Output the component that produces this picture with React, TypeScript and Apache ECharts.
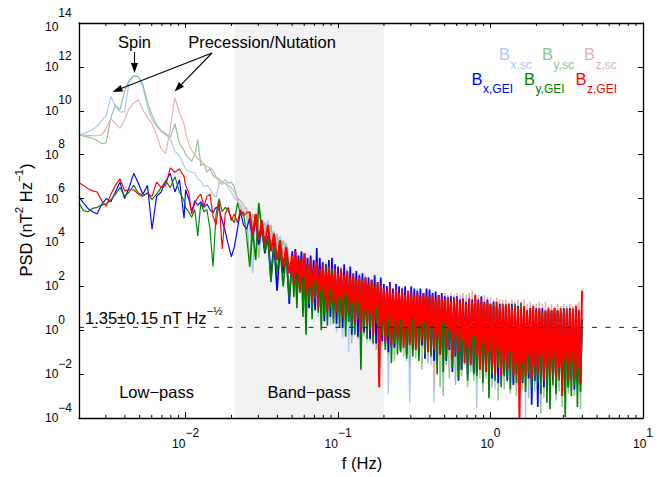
import React, { useEffect, useRef } from "react";
import * as echarts from "echarts";

const FONT = "'Liberation Sans', Arial, Helvetica, sans-serif";

// log10 of frequency (Hz) for every sample of the spectra
const LOG_F = [
  -2.70, -2.67, -2.64, -2.61, -2.58, -2.55, -2.52, -2.49, -2.46, -2.43, -2.40, -2.37,
  -2.34, -2.31, -2.28, -2.25, -2.22, -2.19, -2.16, -2.13, -2.10, -2.07, -2.04, -2.01,
  -2.00, -1.98, -1.96, -1.94, -1.92, -1.90, -1.88, -1.86, -1.84, -1.82, -1.80, -1.78,
  -1.76, -1.74, -1.72, -1.70, -1.68, -1.66, -1.64, -1.62, -1.60, -1.58, -1.56, -1.54,
  -1.52, -1.50, -1.48, -1.46, -1.44, -1.42, -1.40, -1.38, -1.36, -1.34, -1.32,
  -1.30, -1.29, -1.28, -1.27, -1.26, -1.25, -1.24, -1.23, -1.22, -1.21,
  -1.20, -1.19, -1.18, -1.17, -1.16, -1.15, -1.14, -1.13, -1.12, -1.11,
  -1.10, -1.09, -1.08, -1.07, -1.06, -1.05, -1.04, -1.03, -1.02, -1.01,
  -1.00, -0.99, -0.98, -0.97, -0.96, -0.95, -0.94, -0.93, -0.92, -0.91,
  -0.90, -0.89, -0.88, -0.87, -0.86, -0.85, -0.84, -0.83, -0.82, -0.81,
  -0.80, -0.79, -0.78, -0.77, -0.76, -0.75, -0.74, -0.73, -0.72, -0.71,
  -0.70, -0.69, -0.68, -0.67, -0.66, -0.65, -0.64, -0.63, -0.62, -0.61,
  -0.60, -0.59, -0.58, -0.57, -0.56, -0.55, -0.54, -0.53, -0.52, -0.51,
  -0.50, -0.49, -0.48, -0.47, -0.46, -0.45, -0.44, -0.43, -0.42, -0.41,
  -0.40, -0.39, -0.38, -0.37, -0.36, -0.35, -0.34, -0.33, -0.32, -0.31,
  -0.30, -0.29, -0.28, -0.27, -0.26, -0.25, -0.24, -0.23, -0.22, -0.21,
  -0.20, -0.19, -0.18, -0.17, -0.16, -0.15, -0.14, -0.13, -0.12, -0.11,
  -0.10, -0.09, -0.08, -0.07, -0.06, -0.05, -0.04, -0.03, -0.02, -0.01,
  0.00, 0.01, 0.02, 0.03, 0.04, 0.05, 0.06, 0.07, 0.08, 0.09,
  0.10, 0.11, 0.12, 0.13, 0.14, 0.15, 0.16, 0.17, 0.18, 0.19,
  0.20, 0.21, 0.22, 0.23, 0.24, 0.25, 0.26, 0.27, 0.28, 0.29,
  0.30, 0.31, 0.32, 0.33, 0.34, 0.35, 0.36, 0.37, 0.38, 0.39,
  0.40, 0.41, 0.42, 0.43, 0.44, 0.45, 0.46, 0.47, 0.48, 0.49,
  0.50, 0.51, 0.52, 0.53, 0.54, 0.55, 0.56, 0.57, 0.58, 0.59,
  0.60,
];
// index in LOG_F where the noisy, densely drawn part of the spectra begins (f = 10^-1.58 Hz)
const DENSE_START = 45;

// log10 of PSD (nT^2 Hz^-1), spacecraft frame
const LOG_PSD_BX_SC = [
  8.9, 8.95, 9.05, 9.15, 9.3, 9.55, 9.8, 10.65, 10.2, 9.95, 9.95, 11.3, 11.6, 11.55, 11.05, 10.2, 9.6, 9.3, 9.05, 8.9, 8.7, 8.15, 7.95, 7.5,
  7.35, 7.25, 7.2, 7.15, 6.9, 6.8, 6.55, 6.6, 6.45, 6.2, 6.05, 6.7, 6.65, 6.7, 6.5, 6.3, 6.0, 5.9, 5.7, 5.5, 5.6, 4.8, 2.6, 5.1, 5.4, 4.9, 4.6, 5.0, 4.3, 4.5, 3.9, 4.3, 3.6, 4.0, 3.3,
  3.3, 1.8, 3.2, 1.2, 3.4, 2.0, 3.1, 1.5, 3.3, 0.9,
  3.0, 1.4, 3.1, 0.8, 2.9, 1.6, 3.0, 0.6, 2.8, 1.1,
  2.8, 0.5, 2.7, 1.2, 2.8, 0.2, 2.6, 0.9, 2.7, -0.1,
  2.5, 0.6, 2.6, -0.4, 2.5, 0.3, 2.4, -1.0, 2.5, 0.4,
  2.3, -0.2, 2.4, 0.5, 2.2, -0.5, 2.3, 0.2, 2.1, -0.6,
  2.1, 0.1, 2.0, -0.7, 2.2, -0.1, 2.0, -0.9, 2.1, 0.0,
  1.8, -0.8, 1.9, -2.9, 1.7, -0.4, 1.8, -1.2, 1.7, -0.6,
  1.7, -1.0, 1.6, -0.5, 1.8, -1.4, 1.6, -3.3, 1.7, -1.1,
  1.6, -1.0, 1.5, -0.9, 1.6, -1.5, 1.4, -0.7, 1.5, -1.3,
  1.5, -1.6, 1.4, -3.3, 1.5, -1.0, 1.3, -2.6, 1.4, -1.4,
  1.3, -1.2, 1.4, -1.9, 1.2, -1.4, 1.3, -2.2, 1.2, -1.6,
  1.2, -2.0, 1.3, -1.5, 1.1, -2.3, 1.2, -1.7, 1.1, -2.1,
  1.2, -3.55, 1.1, -1.8, 1.2, -2.4, 1.0, -2.0, 1.1, -2.6,
  1.0, -2.2, 1.1, -2.7, 0.9, -1.9, 1.0, -2.5, 0.9, -2.3,
  1.0, -2.4, 0.9, -2.8, 1.0, -2.1, 0.9, -2.6, 1.0, -2.3,
  0.9, -2.5, 1.0, -3.96, 0.9, -2.2, 0.8, -2.7, 0.9, -2.4,
  0.8, -2.6, 0.9, -2.3, 0.8, -3.0, 0.9, -2.5, 0.8, -2.8,
  0.9, -2.4, 0.8, -2.9, 0.9, -2.6, 0.8, -3.1, 0.9, -2.5,
  0.8, -2.7, 0.9, -2.4, 0.8, -3.0, 0.9, -2.6, 0.8, -2.9,
  0.3,
];

const LOG_PSD_BY_SC = [
  8.9, 8.85, 8.8, 8.75, 8.65, 8.5, 8.55, 9.7, 10.25, 10.05, 10.9, 11.4, 11.6, 11.55, 11.2, 10.4, 9.8, 9.35, 9.1, 8.95, 8.8, 9.4, 8.5, 8.2,
  8.0, 7.85, 7.7, 8.0, 8.7, 7.5, 7.6, 7.2, 7.35, 7.05, 6.95, 6.9, 6.75, 6.85, 6.7, 6.75, 6.5, 6.0, 5.9, 5.7, 5.5, 3.0, 5.3, 5.0, 3.3, 4.7, 4.9, 3.9, 4.8, 3.7, 4.4, 3.2, 4.1, 3.5, 3.0,
  3.2, 1.9, 3.3, 1.4, 3.1, 2.1, 3.2, 1.1, 3.0, 0.0,
  3.0, 1.5, 2.9, 0.9, 3.1, 1.7, 2.9, 1.0, 3.0, 1.4,
  2.7, 0.8, 2.8, 0.4, 2.6, 1.2, 2.7, 0.5, 2.8, 0.9,
  2.5, 0.3, 2.6, 0.9, 2.4, 0.0, 2.5, 0.6, 2.4, -0.6,
  2.3, 0.2, 2.2, -0.4, 2.3, 0.4, 2.1, -0.2, 2.2, 0.1,
  2.0, -0.5, 2.1, 0.2, 1.9, -0.9, 2.0, -0.1, 1.9, -0.7,
  1.8, -0.3, 1.7, -1.1, 1.8, -0.5, 1.7, -1.4, 1.8, -0.6,
  1.6, -0.8, 1.7, -1.2, 1.6, -0.4, 1.5, -1.6, 1.6, -0.9,
  1.5, -1.3, 1.6, -0.7, 1.4, -1.8, 1.5, -1.0, 1.4, -1.5,
  1.4, -1.1, 1.5, -1.7, 1.3, -1.2, 1.4, -2.6, 1.3, -3.0,
  1.3, -1.6, 1.2, -2.2, 1.3, -1.4, 1.2, -2.5, 1.3, -1.8,
  1.2, -2.1, 1.1, -1.6, 1.2, -2.6, 1.1, -1.9, 1.2, -2.3,
  1.1, -2.4, 1.2, -1.8, 1.0, -2.8, 1.1, -2.2, 1.0, -2.5,
  1.0, -2.6, 1.1, -2.1, 0.9, -3.2, 1.0, -2.3, 0.9, -2.7,
  1.0, -2.3, 0.9, -2.9, 1.0, -2.5, 0.9, -3.0, 1.0, -2.4,
  0.9, -2.7, 0.8, -2.4, 0.9, -3.1, 0.8, -2.6, 0.9, -2.8,
  0.8, -2.5, 0.9, -3.8, 0.8, -2.7, 0.9, -2.4, 0.8, -3.0,
  0.9, -2.6, 0.8, -3.2, 0.9, -2.8, 0.8, -3.5, 0.9, -2.7,
  0.8, -2.9, 0.9, -2.6, 0.8, -3.0, 0.9, -2.7, 0.8, -3.6,
  0.2,
];

const LOG_PSD_BZ_SC = [
  8.9, 8.88, 8.88, 8.87, 8.86, 8.9, 9.2, 9.65, 9.4, 9.2, 9.6, 10.1, 10.35, 10.5, 10.05, 9.7, 9.4, 8.9, 8.25, 8.05, 9.2, 10.6, 9.9, 9.4,
  9.0, 8.5, 8.2, 8.0, 7.8, 7.75, 7.55, 7.45, 7.4, 7.3, 7.0, 6.75, 6.7, 6.7, 6.6, 6.5, 6.3, 5.95, 5.6, 5.3, 5.5, 5.0, 4.8, 5.2, 4.7, 4.9, 4.4, 4.6, 4.0, 4.3, 3.8, 4.0, 3.5, 3.8, 3.2,
  3.5, 2.2, 3.6, 1.8, 3.4, 2.5, 3.5, 1.5, 3.3, 2.0,
  3.3, 1.6, 3.4, 2.1, 3.2, 1.3, 3.3, 1.9, 3.1, 1.0,
  3.0, 1.5, 3.1, 0.8, 2.9, 1.4, 3.0, 0.5, 2.9, 1.2,
  2.8, 0.7, 2.9, 1.3, 2.7, 0.2, 2.8, 0.9, 2.7, 0.4,
  2.6, 0.9, 2.5, 0.1, 2.6, 0.7, 2.4, -0.3, 2.5, 0.5,
  2.4, 0.0, 2.3, 0.6, 2.4, -0.5, 2.2, 0.3, 2.3, -0.2,
  2.1, 0.2, 2.0, -0.6, 2.1, 0.0, 1.9, -0.9, 2.0, -0.3,
  1.9, -0.5, 2.0, -1.1, 1.9, -0.2, 1.8, -0.8, 1.9, -1.2,
  1.8, -0.7, 1.9, -0.3, 1.8, -1.2, 1.7, -0.6, 1.8, -1.0,
  1.8, -1.3, 1.7, -2.6, 1.8, -0.9, 1.6, -1.4, 1.7, -1.0,
  1.7, -1.2, 1.6, -1.7, 1.7, -0.9, 1.6, -1.5, 1.7, -1.1,
  1.6, -1.9, 1.7, -1.3, 1.6, -2.0, 1.7, -1.4, 1.8, -1.6,
  1.7, -1.8, 1.6, -2.2, 1.5, -1.5, 1.6, -2.0, 1.5, -1.7,
  1.5, -2.1, 1.4, -1.6, 1.5, -2.4, 1.4, -1.9, 1.4, -2.2,
  1.4, -1.8, 1.3, -2.3, 1.4, -2.0, 1.3, -2.6, 1.4, -1.9,
  1.3, -2.2, 1.4, -2.5, 1.2, -2.0, 1.3, -2.7, 1.2, -2.1,
  1.2, -2.4, 1.3, -2.0, 1.2, -3.1, 1.3, -2.3, 1.1, -2.6,
  1.2, -2.2, 1.1, -2.7, 1.2, -2.4, 1.1, -2.9, 1.2, -2.3,
  1.1, -2.5, 1.2, -2.8, 1.1, -2.3, 1.2, -2.6, 1.3, -2.4,
  1.0,
];

// log10 of PSD (nT^2 Hz^-1), GEI frame
const LOG_PSD_BX_GEI = [
  6.1, 5.8, 5.55, 5.4, 5.3, 5.75, 6.0, 5.85, 6.3, 6.75, 6.0, 6.5, 7.15, 6.7, 6.2, 6.6, 4.6, 6.1, 6.3, 6.8, 7.15, 6.3, 6.85, 5.1,
  6.4, 6.0, 5.4, 5.9, 5.7, 5.85, 5.6, 5.75, 5.5, 5.35, 5.6, 5.5, 5.0, 4.5, 3.9, 3.35, 3.8, 4.6, 5.4, 4.8, 4.6, 5.1, 4.2, 5.15, 3.9, 4.7, 3.5, 4.3, 2.4, 4.0, 1.8, 3.8, 2.6, 3.6, 1.2,
  3.6, 2.0, 3.7, 1.5, 3.4, 2.4, 3.6, 1.2, 3.5, 2.2,
  3.3, 1.0, 3.4, 1.8, 3.2, 0.9, 3.75, 1.5, 3.3, 1.1,
  3.1, 0.4, 3.0, 1.3, 3.2, 0.6, 3.3, 0.9, 3.0, 0.3,
  2.9, 0.8, 2.8, 0.1, 3.0, 1.0, 2.7, 0.4, 2.9, -0.2,
  2.6, 0.5, 2.7, -0.3, 2.5, 0.2, 2.6, -0.1, 2.4, 0.6,
  2.4, -0.4, 2.3, 0.3, 2.5, -0.6, 2.2, 0.0, 2.4, -0.5,
  2.1, -0.6, 2.0, -1.0, 2.2, 0.1, 1.9, -0.8, 2.1, -0.3,
  2.0, -0.9, 1.9, -0.2, 2.0, -1.1, 1.8, -0.5, 2.0, -0.9,
  1.9, -0.4, 1.8, -1.2, 1.9, -0.7, 1.7, -1.3, 1.9, -0.2,
  1.85, -1.0, 1.7, -1.4, 1.75, -0.6, 1.6, -1.1, 1.7, -0.8,
  1.55, -1.4, 1.5, -0.9, 1.55, -1.9, 1.5, -1.2, 1.55, -2.3,
  1.4, -1.8, 1.45, -1.0, 1.3, -2.0, 1.45, -1.3, 1.4, -1.9,
  1.45, -2.0, 1.4, -1.4, 1.55, -2.2, 1.3, -1.6, 1.4, -2.1,
  1.2, -2.2, 1.3, -1.5, 1.1, -2.4, 1.2, -1.8, 1.0, -2.0,
  1.1, -2.3, 1.0, -1.7, 1.2, -2.5, 1.0, -2.0, 1.1, -2.2,
  1.0, -2.4, 1.1, -1.9, 0.9, -2.2, 1.0, -3.4, 0.9, -2.3,
  1.0, -3.5, 0.9, -2.1, 1.0, -2.6, 0.8, -2.2, 0.9, -2.5,
  0.9, -2.3, 1.0, -2.7, 0.9, -2.0, 0.8, -2.5, 1.0, -2.3,
  0.9, -2.6, 1.0, -2.2, 0.9, -2.7, 1.0, -2.4, 0.9, -2.5,
  0.5,
];

const LOG_PSD_BY_GEI = [
  5.8, 5.45, 5.4, 5.55, 5.6, 5.7, 5.75, 5.95, 6.2, 6.5, 6.1, 6.3, 6.6, 6.25, 6.15, 6.25, 5.95, 6.2, 6.5, 6.8, 6.5, 7.0, 6.3, 5.9,
  5.6, 5.4, 5.15, 5.5, 4.3, 5.8, 5.4, 5.5, 4.6, 2.9, 5.3, 6.0, 5.4, 5.6, 5.45, 5.1, 4.9, 5.8, 5.3, 5.4, 4.3, 2.9, 4.5, 3.2, 5.8, 4.6, 3.6, 4.2, 2.2, 3.9, 2.6, 3.7, 2.0, 3.5, 1.4,
  3.3, 1.5, 3.4, 1.0, 3.2, 1.7, 3.3, 0.6, 3.1, -0.2,
  3.0, 1.2, 3.1, 0.5, 2.9, 1.4, 3.0, 0.8, 2.8, 0.0,
  2.8, 0.7, 2.9, 0.2, 2.7, 1.0, 2.8, 0.3, 2.6, 0.8,
  2.6, 0.1, 2.7, 0.6, 2.5, -0.3, 2.6, 0.4, 2.4, 0.0,
  2.4, -0.2, 2.3, 0.5, 2.2, -1.8, 2.3, 0.1, 2.2, -0.4,
  2.1, 0.0, 2.2, -0.6, 2.0, 0.3, 2.1, -0.8, 2.0, -0.2,
  1.9, -0.9, 1.8, -0.3, 1.9, -1.5, 1.7, -0.6, 1.8, -1.1,
  1.7, -1.0, 1.8, -0.4, 1.6, -1.3, 1.7, -0.7, 1.6, -1.2,
  1.6, -0.8, 1.7, -1.4, 1.5, -0.5, 1.6, -1.1, 1.5, -0.9,
  1.5, -1.2, 1.6, -0.7, 1.4, -2.0, 1.5, -1.0, 1.4, -1.9,
  1.4, -1.3, 1.5, -0.8, 1.3, -1.7, 1.4, -1.1, 1.3, -2.2,
  1.3, -1.8, 1.4, -1.2, 1.2, -2.3, 1.3, -1.5, 1.2, -2.0,
  1.3, -2.1, 1.2, -1.6, 1.3, -2.4, 1.1, -1.9, 1.2, -3.1,
  1.1, -2.0, 1.2, -2.3, 1.0, -1.7, 1.1, -2.6, 1.0, -2.1,
  1.2, -2.2, 1.0, -2.7, 1.1, -1.9, 1.2, -2.4, 1.0, -2.5,
  1.25, -2.3, 1.0, -2.8, 0.9, -2.0, 1.0, -2.6, 0.9, -2.3,
  0.9, -2.4, 1.0, -2.9, 0.8, -2.2, 0.9, -3.3, 0.8, -3.6,
  0.9, -2.5, 0.8, -2.9, 0.9, -2.3, 0.8, -2.7, 0.9, -3.95,
  0.8, -2.6, 0.9, -3.0, 0.8, -2.5, 0.9, -3.5, 0.8, -2.8,
  0.4,
];

const LOG_PSD_BZ_GEI = [
  6.73, 6.6, 6.45, 6.35, 6.3, 5.9, 5.65, 6.2, 6.6, 6.9, 6.35, 6.4, 6.4, 6.2, 6.1, 6.25, 6.1, 6.75, 6.5, 6.6, 7.4, 7.2, 7.35, 7.0,
  6.6, 6.3, 5.3, 5.8, 6.05, 6.2, 5.65, 6.1, 6.2, 5.2, 4.8, 5.9, 3.7, 5.3, 5.6, 5.0, 5.3, 4.9, 5.5, 5.2, 5.35, 5.4, 4.3, 5.3, 4.1, 5.0, 3.9, 4.8, 3.6, 4.4, 3.2, 4.1, 2.9, 3.8, 2.6,
  3.4, 2.1, 3.6, 2.6, 3.2, 1.8, 3.3, 2.4, 3.5, 1.6,
  3.0, 1.9, 3.2, 1.3, 2.9, 2.2, 3.1, 1.0, 2.8, 1.8,
  3.0, 1.5, 2.7, 0.9, 2.9, 1.9, 2.6, 1.2, 2.8, 0.8,
  2.6, 1.4, 2.8, 0.6, 2.5, 1.6, 2.7, 0.8, 2.4, 1.2,
  2.5, 0.3, 2.3, 1.3, 2.4, -0.1, 2.2, 0.9, 2.4, 0.2,
  2.1, 0.8, 2.3, -0.2, 2.0, 1.1, 2.2, -2.6, 2.0, 0.4,
  1.9, -0.5, 1.8, 0.6, 2.0, -0.7, 1.7, 0.3, 1.9, -0.4,
  1.7, 0.5, 1.8, -0.8, 1.6, 0.1, 1.8, -0.6, 1.7, 0.6,
  1.6, -0.9, 1.7, 0.2, 1.5, -0.5, 1.7, 0.4, 1.6, -1.0,
  1.5, 0.1, 1.6, -0.9, 1.4, -0.3, 1.6, -1.1, 1.5, 0.3,
  1.4, -0.8, 1.5, 0.0, 1.3, -1.2, 1.4, -0.4, 1.5, -1.0,
  1.3, -0.5, 1.4, -1.5, 1.2, -0.9, 1.4, -1.6, 1.3, -0.3,
  1.6, -1.2, 1.3, -1.8, 1.4, -0.6, 1.2, -1.9, 1.3, -1.0,
  1.2, -1.6, 1.1, -2.0, 1.3, -0.9, 1.0, -2.1, 1.2, -1.3,
  1.1, -1.8, 1.2, -1.0, 1.0, -2.1, 1.1, -1.5, 1.0, -4.0,
  1.0, -1.4, 1.1, -2.1, 0.9, -1.1, 1.0, -2.2, 1.1, -1.6,
  0.9, -2.0, 1.0, -1.2, 0.8, -2.3, 0.9, -1.6, 1.0, -2.1,
  0.9, -1.3, 1.0, -2.2, 0.9, -1.7, 1.0, -3.0, 0.8, -1.4,
  1.0, -2.3, 0.9, -1.5, 1.0, -2.2, 1.1, -1.8, 0.9, -2.4,
  1.8,
];

const SERIES_NAMES = ["Bx,sc", "By,sc", "Bz,sc", "Bx,GEI", "By,GEI", "Bz,GEI"];
const SERIES_LOG_PSD = [LOG_PSD_BX_SC, LOG_PSD_BY_SC, LOG_PSD_BZ_SC, LOG_PSD_BX_GEI, LOG_PSD_BY_GEI, LOG_PSD_BZ_GEI];
const SERIES_COLORS = ["#aec7fb", "#92c192", "#e0b1b1", "#0000ff", "#008000", "#ff0000"];
const DENSE_WIDTHS = [1.4, 1.4, 1.5, 1.7, 1.6, 2.0];

const X_RANGE = [0.002, 10];
const Y_RANGE = [1e-4, 1e14];
const Y_TICK_STEP_DECADES = 2;
const BAND_PASS = [0.021, 0.2];
const NOISE_FLOOR = 1.35;
const MINOR_X_TICKS = [
  0.003, 0.004, 0.005, 0.006, 0.007, 0.008, 0.009,
  0.02, 0.03, 0.04, 0.05, 0.06, 0.07, 0.08, 0.09,
  0.2, 0.3, 0.4, 0.5, 0.6, 0.7, 0.8, 0.9,
  2, 3, 4, 5, 6, 7, 8, 9,
];

const LEGEND_ROWS = [
  [
    { sub: "x,sc", color: "#aec7fb", x: 499 },
    { sub: "y,sc", color: "#92c192", x: 542 },
    { sub: "z,sc", color: "#e0b1b1", x: 584 },
  ],
  [
    { sub: "x,GEI", color: "#0000ff", x: 471.5 },
    { sub: "y,GEI", color: "#008000", x: 524 },
    { sub: "z,GEI", color: "#ff0000", x: 575.5 },
  ],
];

const MINUS = "\u2212";
const expText = (e: number) => (e < 0 ? MINUS + Math.abs(e) : String(e));
const decadeOf = (v: number) => {
  const e = Math.log10(v);
  const r = Math.round(e);
  return Math.abs(e - r) > 1e-6 ? null : r;
};
const xLabel = (v: number) => {
  const r = decadeOf(v);
  return r === null ? "" : `{b|10}{e|${expText(r)}}`;
};
const yLabel = (v: number) => {
  const r = decadeOf(v);
  if (r === null) return "";
  return v >= Y_RANGE[1] * 0.999 ? `{bt|10}{et|${expText(r)}}` : `{b|10}{e|${expText(r)}}`;
};

const tokenBase = { fontSize: 12, fontFamily: FONT, color: "#000", lineHeight: 14 };
const labelRich = {
  b: { ...tokenBase },
  e: { ...tokenBase, padding: [0, 0, 21, 0] },
  bt: { ...tokenBase, padding: [7, 0, 0, 0] },
  et: { ...tokenBase, padding: [0, 0, 20, 0] },
};

function arrow(x1: number, y1: number, x2: number, y2: number) {
  const dx = x2 - x1;
  const dy = y2 - y1;
  const len = Math.sqrt(dx * dx + dy * dy);
  const ux = dx / len;
  const uy = dy / len;
  const L = 10;
  const W = 3.5;
  const bx = x2 - ux * L;
  const by = y2 - uy * L;
  return [
    { type: "line", z: 20, shape: { x1, y1, x2: bx, y2: by }, style: { stroke: "#000", lineWidth: 1.1 } },
    {
      type: "polygon",
      z: 20,
      shape: { points: [[x2, y2], [bx - uy * W, by + ux * W], [bx + uy * W, by - ux * W]] },
      style: { fill: "#000" },
    },
  ];
}

function text(x: number, y: number, str: string, opts: any = {}) {
  return {
    type: "text",
    z: 20,
    x,
    y,
    rotation: opts.rotation || 0,
    style: {
      text: str,
      fill: opts.color || "#000",
      fontSize: opts.fontSize || 16.5,
      fontFamily: FONT,
      align: opts.align || "center",
      verticalAlign: "middle",
      rich: opts.rich,
    },
  };
}

export default function App() {
  const ref = useRef<HTMLDivElement>(null);

  useEffect(() => {
    document.body.style.margin = "0";
    const chart = echarts.init(ref.current!, null, { renderer: "svg" });

    const lineSeries: any[] = [];
    SERIES_NAMES.forEach((name, k) => {
      const pts = LOG_F.map((lf, i) => [Math.pow(10, lf), Math.pow(10, SERIES_LOG_PSD[k][i])]);
      const base = {
        type: "line",
        name,
        showSymbol: false,
        symbol: "none",
        silent: true,
        z: 2,
        itemStyle: { color: SERIES_COLORS[k] },
      };
      lineSeries.push({ ...base, data: pts.slice(0, DENSE_START + 1), lineStyle: { color: SERIES_COLORS[k], width: 1.15 } });
      lineSeries.push({
        ...base,
        data: pts.slice(DENSE_START),
        lineStyle: { color: SERIES_COLORS[k], width: DENSE_WIDTHS[k], join: "bevel" },
      });
    });

    const axisLineStyle = { color: "#000", width: 1.3 };

    const graphicEls: any[] = [
      text(134.5, 41.5, "Spin"),
      text(262, 41.5, "Precession/Nutation"),
      ...arrow(134.5, 52, 134.5, 73),
      ...arrow(212, 53, 112.5, 92),
      ...arrow(212, 53, 174.5, 91.5),
      text(85, 317.5, `1.35\u00b10.15 nT Hz{e|${MINUS}\u00bd}`, {
        align: "left",
        rich: { e: { fontSize: 11, fontFamily: FONT, fill: "#000", padding: [0, 0, 13, 0] } },
      }),
      text(156.5, 392, `Low${MINUS}pass`),
      text(309, 392, `Band${MINUS}pass`),
      text(362, 463, "f (Hz)"),
      text(25.5, 220, `PSD (nT{s|2} Hz{s|${MINUS}1})`, {
        rotation: Math.PI / 2,
        rich: { s: { fontSize: 11.5, fontFamily: FONT, fill: "#000", padding: [0, 0, 14, 0] } },
      }),
    ];
    LEGEND_ROWS.forEach((row, r) => {
      row.forEach((item) => {
        graphicEls.push(text(item.x, r === 0 ? 54 : 79, "B", { align: "left", color: item.color, fontSize: 16.5 }));
        graphicEls.push(
          text(item.x + 11.5, r === 0 ? 64.5 : 88.5, item.sub, { align: "left", color: item.color, fontSize: 12 })
        );
      });
    });

    chart.setOption({
      animation: false,
      backgroundColor: "#fff",
      grid: { left: 79, right: 19, top: 23, bottom: 59, show: false },
      xAxis: [
        {
          type: "log",
          logBase: 10,
          min: X_RANGE[0],
          max: X_RANGE[1],
          position: "bottom",
          z: 5,
          axisLine: { show: true, lineStyle: axisLineStyle },
          axisTick: { show: true, inside: true, length: 6, lineStyle: { color: "#000", width: 1 } },
          splitLine: { show: false },
          axisLabel: { margin: 18.5, formatter: xLabel, rich: labelRich, fontFamily: FONT },
        },
        {
          type: "log",
          logBase: 10,
          min: X_RANGE[0],
          max: X_RANGE[1],
          position: "top",
          z: 5,
          axisLine: { show: true, lineStyle: axisLineStyle },
          axisTick: { show: true, inside: true, length: 5, lineStyle: { color: "#000", width: 1 } },
          splitLine: { show: false },
          axisLabel: { show: false },
        },
      ],
      yAxis: [
        {
          type: "log",
          logBase: 10,
          min: Y_RANGE[0],
          max: Y_RANGE[1],
          interval: Y_TICK_STEP_DECADES,
          position: "left",
          z: 5,
          axisLine: { show: true, lineStyle: axisLineStyle },
          axisTick: { show: true, inside: true, length: 5, lineStyle: { color: "#000", width: 1 } },
          splitLine: { show: false },
          axisLabel: { margin: 34, align: "left", formatter: yLabel, rich: labelRich, fontFamily: FONT },
        },
        {
          type: "log",
          logBase: 10,
          min: Y_RANGE[0],
          max: Y_RANGE[1],
          interval: Y_TICK_STEP_DECADES,
          position: "right",
          z: 5,
          axisLine: { show: true, lineStyle: axisLineStyle },
          axisTick: { show: true, inside: true, length: 5, lineStyle: { color: "#000", width: 1 } },
          splitLine: { show: false },
          axisLabel: { show: false },
        },
      ],
      series: [
        {
          type: "custom",
          name: "band-pass",
          silent: true,
          z: 1,
          data: [[BAND_PASS[0], BAND_PASS[1]]],
          renderItem: (params: any, api: any) => {
            const cs = params.coordSys;
            const x0 = api.coord([api.value(0), 1])[0];
            const x1 = api.coord([api.value(1), 1])[0];
            return {
              type: "rect",
              shape: { x: x0, y: cs.y, width: x1 - x0, height: cs.height },
              style: { fill: "#f2f2f2" },
            };
          },
        },
        ...lineSeries,
        {
          type: "line",
          name: "noise floor",
          silent: true,
          z: 3,
          symbol: "none",
          showSymbol: false,
          data: [[X_RANGE[0], NOISE_FLOOR], [X_RANGE[1], NOISE_FLOOR]],
          lineStyle: { color: "#222", width: 1, type: [5, 8.5] },
        },
        {
          type: "custom",
          name: "minor ticks",
          silent: true,
          z: 6,
          data: MINOR_X_TICKS.map((v) => [v, 1]),
          renderItem: (params: any, api: any) => {
            const cs = params.coordSys;
            const x = api.coord([api.value(0), 1])[0];
            const yb = cs.y + cs.height;
            return {
              type: "group",
              children: [
                { type: "line", shape: { x1: x, y1: yb, x2: x, y2: yb - 3.2 }, style: { stroke: "#000", lineWidth: 1 } },
                { type: "line", shape: { x1: x, y1: cs.y, x2: x, y2: cs.y + 3 }, style: { stroke: "#000", lineWidth: 1 } },
              ],
            };
          },
        },
      ],
      graphic: { elements: graphicEls },
    });

    return () => chart.dispose();
  }, []);

  return <div ref={ref} style={{ width: 662, height: 477 }} />;
}
